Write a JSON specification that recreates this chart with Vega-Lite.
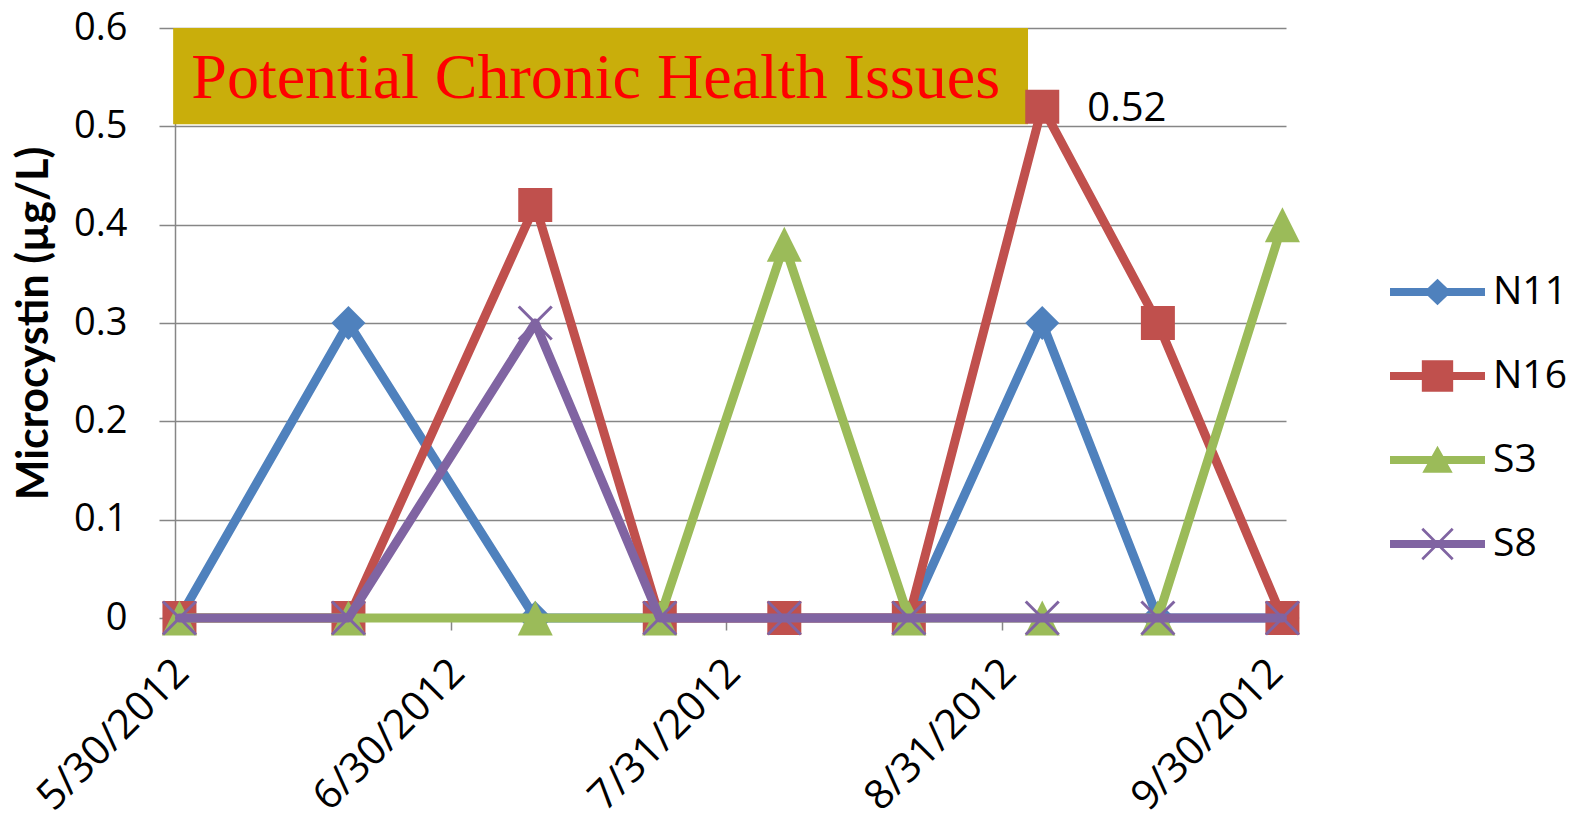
{
  "$schema": "https://vega.github.io/schema/vega-lite/v6.json",
  "width": 1111,
  "height": 590,
  "autosize": {"type": "none"},
  "padding": {"left": 175, "top": 28, "right": 295, "bottom": 209},
  "background": "white",
  "config": {"view": {"stroke": null}, "font": "Open Sans"},
  "data": {
    "values": [
      {"date": "2012-05-30T12:00:00", "series": "N11", "value": 0},
      {"date": "2012-06-18T12:00:00", "series": "N11", "value": 0.3},
      {"date": "2012-07-09T12:00:00", "series": "N11", "value": 0},
      {"date": "2012-07-23T12:00:00", "series": "N11", "value": 0},
      {"date": "2012-08-06T12:00:00", "series": "N11", "value": 0},
      {"date": "2012-08-20T12:00:00", "series": "N11", "value": 0},
      {"date": "2012-09-04T12:00:00", "series": "N11", "value": 0.3},
      {"date": "2012-09-17T12:00:00", "series": "N11", "value": 0},
      {"date": "2012-10-01T12:00:00", "series": "N11", "value": 0},
      {"date": "2012-05-30T12:00:00", "series": "N16", "value": 0},
      {"date": "2012-06-18T12:00:00", "series": "N16", "value": 0},
      {"date": "2012-07-09T12:00:00", "series": "N16", "value": 0.42},
      {"date": "2012-07-23T12:00:00", "series": "N16", "value": 0},
      {"date": "2012-08-06T12:00:00", "series": "N16", "value": 0},
      {"date": "2012-08-20T12:00:00", "series": "N16", "value": 0},
      {"date": "2012-09-04T12:00:00", "series": "N16", "value": 0.52},
      {"date": "2012-09-17T12:00:00", "series": "N16", "value": 0.3},
      {"date": "2012-10-01T12:00:00", "series": "N16", "value": 0},
      {"date": "2012-05-30T12:00:00", "series": "S3", "value": 0},
      {"date": "2012-06-18T12:00:00", "series": "S3", "value": 0},
      {"date": "2012-07-09T12:00:00", "series": "S3", "value": 0},
      {"date": "2012-07-23T12:00:00", "series": "S3", "value": 0},
      {"date": "2012-08-06T12:00:00", "series": "S3", "value": 0.38},
      {"date": "2012-08-20T12:00:00", "series": "S3", "value": 0},
      {"date": "2012-09-04T12:00:00", "series": "S3", "value": 0},
      {"date": "2012-09-17T12:00:00", "series": "S3", "value": 0},
      {"date": "2012-10-01T12:00:00", "series": "S3", "value": 0.4},
      {"date": "2012-05-30T12:00:00", "series": "S8", "value": 0},
      {"date": "2012-06-18T12:00:00", "series": "S8", "value": 0},
      {"date": "2012-07-09T12:00:00", "series": "S8", "value": 0.3},
      {"date": "2012-07-23T12:00:00", "series": "S8", "value": 0},
      {"date": "2012-08-06T12:00:00", "series": "S8", "value": 0},
      {"date": "2012-08-20T12:00:00", "series": "S8", "value": 0},
      {"date": "2012-09-04T12:00:00", "series": "S8", "value": 0},
      {"date": "2012-09-17T12:00:00", "series": "S8", "value": 0},
      {"date": "2012-10-01T12:00:00", "series": "S8", "value": 0}
    ]
  },
  "encoding": {
    "x": {
      "field": "date",
      "type": "temporal",
      "scale": {
        "domain": [
          {"year": 2012, "month": 5, "date": 30},
          {"year": 2012, "month": 10, "date": 1, "hours": 21, "minutes": 40}
        ],
        "nice": false
      },
      "axis": {
        "values": [
          {"year": 2012, "month": 5, "date": 30},
          {"year": 2012, "month": 6, "date": 30},
          {"year": 2012, "month": 7, "date": 31},
          {"year": 2012, "month": 8, "date": 31},
          {"year": 2012, "month": 9, "date": 30}
        ],
        "format": "%-m/%-d/%Y",
        "title": null,
        "grid": false,
        "labelAngle": -45,
        "labelAlign": "right",
        "labelBaseline": "top",
        "labelFont": "Open Sans",
        "labelFontSize": 41,
        "labelColor": "#000000",
        "labelPadding": 22,
        "labelOffset": -7,
        "labelLimit": 0,
        "labelOverlap": false,
        "labelFlush": false,
        "labelBound": false,
        "tickSize": 12,
        "tickColor": "#868686",
        "tickWidth": 1.5,
        "domainColor": "#868686",
        "domainWidth": 1.5
      }
    },
    "y": {
      "field": "value",
      "type": "quantitative",
      "scale": {"domain": [0, 0.6], "nice": false},
      "axis": {
        "values": [0, 0.1, 0.2, 0.3, 0.4, 0.5, 0.6],
        "format": ".1~f",
        "labelFont": "Open Sans",
        "labelFontSize": 38,
        "labelColor": "#000000",
        "labelPadding": 32,
        "labelBaseline": "middle",
        "tickSize": 16,
        "tickColor": "#868686",
        "tickWidth": 1.5,
        "grid": true,
        "gridColor": "#868686",
        "gridWidth": 1.5,
        "domainColor": "#868686",
        "domainWidth": 1.5,
        "title": "Microcystin (µg/L)",
        "titleFont": "Lato",
        "titleFontSize": 43,
        "titleFontWeight": "bold",
        "titleColor": "#000000",
        "titleAngle": -90,
        "titleAlign": "center",
        "titleBaseline": "middle",
        "titleX": -141,
        "titleY": 295
      }
    },
    "color": {
      "field": "series",
      "type": "nominal",
      "scale": {
        "domain": ["N11", "N16", "S3", "S8"],
        "range": ["#4F81BD", "#C0504D", "#9BBB59", "#8064A2"]
      },
      "legend": null
    }
  },
  "layer": [
    {
      "mark": {"type": "point", "filled": true, "size": 0},
      "encoding": {
        "color": {
          "field": "series",
          "type": "nominal",
          "scale": {
            "domain": ["N11", "N16", "S3", "S8"],
            "range": ["#4F81BD", "#C0504D", "#9BBB59", "#8064A2"]
          },
          "legend": {
            "orient": "none",
            "legendX": 1215,
            "legendY": 242,
            "title": null,
            "padding": 0,
            "symbolSize": 9025,
            "symbolStrokeWidth": 0,
            "symbolOpacity": 1,
            "labelFont": "Open Sans",
            "labelFontSize": 39,
            "labelColor": "#000000",
            "labelOffset": 8,
            "labelBaseline": "middle",
            "rowPadding": 40,
            "clipHeight": 44
          }
        },
        "shape": {
          "field": "series",
          "type": "nominal",
          "scale": {
            "domain": ["N11", "N16", "S3", "S8"],
            "range": [
              "M-1,-0.085H1V0.085H-1ZM0,-0.28L0.29,0L0,0.28L-0.29,0Z",
              "M-1,-0.085H1V0.085H-1ZM-0.33,-0.33H0.33V0.33H-0.33Z",
              "M-1,-0.085H1V0.085H-1ZM0,-0.3L0.32,0.27H-0.32Z",
              "M-1,-0.085H1V0.085H-1ZM-0.34,-0.3L-0.3,-0.34L0.34,0.3L0.3,0.34ZM0.3,-0.34L0.34,-0.3L-0.3,0.34L-0.34,0.3Z"
            ]
          },
          "legend": {
            "orient": "none",
            "legendX": 1215,
            "legendY": 242,
            "title": null,
            "padding": 0,
            "symbolSize": 9025,
            "symbolStrokeWidth": 0,
            "symbolOpacity": 1,
            "labelFont": "Open Sans",
            "labelFontSize": 39,
            "labelColor": "#000000",
            "labelOffset": 8,
            "labelBaseline": "middle",
            "rowPadding": 40,
            "clipHeight": 44
          }
        }
      }
    },
    {
      "transform": [{"filter": "datum.series === 'N16' && datum.value === 0.52"}],
      "mark": {"type": "rect", "color": "#C9AE0B"},
      "encoding": {
        "x": {"datum": {"year": 2012, "month": 5, "date": 29, "hours": 19}, "type": "temporal"},
        "x2": {"datum": {"year": 2012, "month": 9, "date": 2, "hours": 21, "minutes": 36}},
        "y": {"datum": 0.6, "type": "quantitative"},
        "y2": {"datum": 0.502},
        "color": {"value": "#C9AE0B"}
      }
    },
    {
      "transform": [{"filter": "datum.series === 'N16' && datum.value === 0.52"}],
      "mark": {"type": "text", "align": "left", "baseline": "alphabetic", "font": "Liberation Serif", "fontSize": 64},
      "encoding": {
        "x": {"datum": {"year": 2012, "month": 5, "date": 31, "hours": 20}, "type": "temporal"},
        "y": {"datum": 0.5288, "type": "quantitative"},
        "text": {"value": "Potential Chronic Health Issues"},
        "color": {"value": "#FF0000"}
      }
    },
    {
      "transform": [{"filter": "datum.series === 'N11'"}],
      "mark": {"type": "line", "strokeWidth": 9, "strokeJoin": "round", "strokeCap": "round"}
    },
    {
      "transform": [{"filter": "datum.series === 'N11'"}],
      "mark": {"type": "point", "filled": true, "opacity": 1, "shape": "diamond", "size": 1156}
    },
    {
      "transform": [{"filter": "datum.series === 'N16'"}],
      "mark": {"type": "line", "strokeWidth": 9, "strokeJoin": "round", "strokeCap": "round"}
    },
    {
      "transform": [{"filter": "datum.series === 'N16'"}],
      "mark": {"type": "point", "filled": true, "opacity": 1, "shape": "square", "size": 1156}
    },
    {
      "transform": [{"filter": "datum.series === 'S3'"}],
      "mark": {"type": "line", "strokeWidth": 9, "strokeJoin": "round", "strokeCap": "round"}
    },
    {
      "transform": [{"filter": "datum.series === 'S3'"}],
      "mark": {"type": "point", "filled": true, "opacity": 1, "shape": "M0,-1L1,1H-1Z", "size": 1225}
    },
    {
      "transform": [{"filter": "datum.series === 'S8'"}],
      "mark": {"type": "line", "strokeWidth": 9, "strokeJoin": "round", "strokeCap": "round"}
    },
    {
      "transform": [{"filter": "datum.series === 'S8'"}],
      "mark": {"type": "point", "filled": false, "opacity": 1, "strokeWidth": 3, "shape": "M-1,-1L1,1M-1,1L1,-1", "size": 1089}
    },
    {
      "transform": [{"filter": "datum.series === 'N16' && datum.value === 0.52"}],
      "mark": {"type": "text", "align": "left", "baseline": "middle", "dx": 45, "dy": 2, "font": "Open Sans", "fontSize": 40},
      "encoding": {
        "text": {"field": "value", "type": "quantitative", "format": ".2f"},
        "color": {"value": "#000000"}
      }
    }
  ]
}
